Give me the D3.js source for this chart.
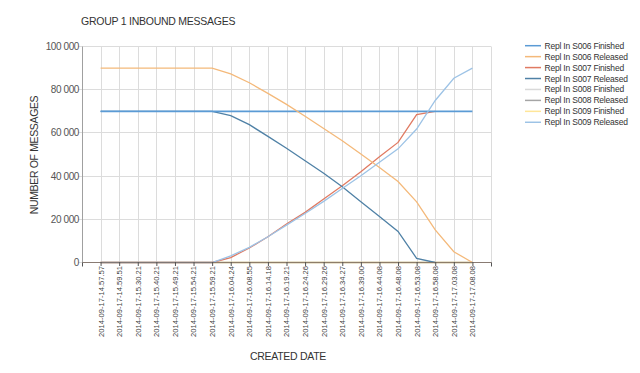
<!DOCTYPE html>
<html><head><meta charset="utf-8">
<script src="https://cdn.jsdelivr.net/npm/d3@7"></script>
<style>body{margin:0;background:#fff;}svg{display:block;font-family:"Liberation Sans",Arial,sans-serif;}</style>
</head><body><svg id="c" width="640" height="373"></svg>
<script>
const categories = ["2014-09-17-14.57.57","2014-09-17-14.59.51","2014-09-17-15.30.21","2014-09-17-15.40.21","2014-09-17-15.49.21","2014-09-17-15.54.21","2014-09-17-15.59.21","2014-09-17-16.04.24","2014-09-17-16.08.55","2014-09-17-16.14.18","2014-09-17-16.19.21","2014-09-17-16.24.26","2014-09-17-16.29.26","2014-09-17-16.34.27","2014-09-17-16.39.00","2014-09-17-16.44.08","2014-09-17-16.48.08","2014-09-17-16.53.08","2014-09-17-16.58.08","2014-09-17-17.03.08","2014-09-17-17.08.08"];
const seriesNames = ["Repl In S006 Finished","Repl In S006 Released","Repl In S007 Finished","Repl In S007 Released","Repl In S008 Finished","Repl In S008 Released","Repl In S009 Finished","Repl In S009 Released"];
const seriesColors = ["#5b9bd5","#f4b97a","#e07a62","#4f81a6","#d9d9d9","#a5a5a5","#ffe699","#9dc3e6"];
const s006Finished = [70000,70000,70000,70000,70000,70000,70000,70000,70000,70000,70000,70000,70000,70000,70000,70000,70000,70000,70000,70000,70000];
const s006Released = [90000,90000,90000,90000,90000,90000,90000,87300,83200,78300,73200,67700,62000,56400,50200,44000,37500,28100,15100,5000,0];
const s007Finished = [0,0,0,0,0,0,0,2300,6700,11900,17800,23200,29400,35500,42000,49000,55600,68500,70000,null,null];
const s007Released = [70000,70000,70000,70000,70000,70000,70000,68000,63800,58400,52900,47100,41300,35100,28100,21300,14400,1900,0,null,null];
const s008Finished = [0,0,0,0,0,0,0,0,0,0,0,0,0,0,0,0,0,0,0,0,0];
const s008Released = [0,0,0,0,0,0,0,0,0,0,0,0,0,0,0,0,0,0,0,0,0];
const s009Finished = [0,0,0,0,0,0,0,0,0,0,0,0,0,0,0,0,0,0,0,0,0];
const s009Released = [0,0,0,0,0,0,0,3100,7000,11900,17300,22700,28300,34300,40200,46400,52600,61800,75000,85300,90000];
const yTicks = [0,20000,40000,60000,80000,100000];
const titleText = "GROUP 1 INBOUND MESSAGES";
const xTitle = "CREATED DATE";
const yTitle = "NUMBER OF MESSAGES";

const seriesValues = [s006Finished,s006Released,s007Finished,s007Released,s008Finished,s008Released,s009Finished,s009Released];
const drawOrder = [4,5,6,2,3,0,1,7];

const svg = d3.select("#c");
const L=82,R=491,T=46.5,B=262.5;
const x = d3.scalePoint().domain(categories).range([L,R]).padding(1);
const y = d3.scaleLinear().domain([0,100000]).range([B,T]);
const py = v => Math.floor(y(v))+0.5;

// horizontal grid
svg.append("g").selectAll("line").data(yTicks).join("line")
  .attr("x1",L-4).attr("x2",R).attr("y1",py).attr("y2",py)
  .attr("stroke","#dcdcdc").attr("stroke-width",1);
// vertical grid
const vx = categories.map(c=>x(c)).concat([R]);
svg.append("g").selectAll("line").data(vx).join("line")
  .attr("x1",d=>Math.round(d)+0.5).attr("x2",d=>Math.round(d)+0.5).attr("y1",T).attr("y2",B)
  .attr("stroke","#dcdcdc").attr("stroke-width",1);

// y axis labels
const fmt = d=> d3.format(",")(d).replace(/,/g," ");
svg.append("g").selectAll("text").data(yTicks).join("text")
  .attr("x",L-3).attr("y",d=>py(d)+3.5).attr("text-anchor","end")
  .attr("font-size","10px").attr("letter-spacing","-0.4px").attr("fill","#555").text(fmt);
// y axis line
svg.append("line").attr("x1",L+0.5).attr("x2",L+0.5).attr("y1",T).attr("y2",B).attr("stroke","#a0a0a0");

// lines
const line = d3.line().defined(d=>d.v!=null).x(d=>x(d.c)).y(d=>y(d.v));
const g = svg.append("g");
drawOrder.forEach(i=>{
  const data = categories.map((c,k)=>({c, v:seriesValues[i][k]}));
  g.append("path").datum(data).attr("d",line).attr("fill","none")
    .attr("stroke",seriesColors[i]).attr("stroke-width",i===0?1.8:1.3);
});

// x axis with ticks
const xAxis = d3.axisBottom(x).tickSize(4).tickSizeOuter(0);
const gx = svg.append("g").attr("transform",`translate(0,${B-0.5})`).call(xAxis);
gx.select(".domain").attr("stroke","#7a6a60").attr("stroke-opacity",0.85);
gx.selectAll(".tick line").attr("stroke","#555");
gx.selectAll(".tick text").attr("font-size","7.6px").attr("fill","#444")
  .attr("font-family","'Liberation Sans',Arial,sans-serif")
  .attr("text-anchor","end").attr("dy","0.32em").attr("x",-4).attr("y",0)
  .attr("transform","rotate(-90)");
// edge ticks
svg.append("g").selectAll("line").data([L,R]).join("line")
  .attr("x1",d=>Math.round(d)+0.5).attr("x2",d=>Math.round(d)+0.5).attr("y1",B).attr("y2",B+4).attr("stroke","#555");

// titles
svg.append("text").attr("x",81).attr("y",24.5).attr("font-size","10.5px").attr("letter-spacing","-0.25px").attr("fill","#333").text(titleText);
svg.append("text").attr("x",288).attr("y",360).attr("text-anchor","middle").attr("font-size","10.5px").attr("letter-spacing","-0.3px").attr("fill","#333").text(xTitle);
svg.append("text").attr("transform","translate(38,155) rotate(-90)").attr("text-anchor","middle").attr("font-size","10.5px").attr("letter-spacing","-0.35px").attr("fill","#333").text(yTitle);

// legend
const lg = svg.append("g");
seriesNames.forEach((n,i)=>{
  const yy = 45.7 + i*10.94;
  lg.append("line").attr("x1",525).attr("x2",541).attr("y1",yy).attr("y2",yy).attr("stroke",seriesColors[i]).attr("stroke-width",1.5);
  lg.append("text").attr("x",544.5).attr("y",yy+3).attr("font-size","8.5px").attr("letter-spacing","-0.2px").attr("fill","#333").text(n);
});
</script></body></html>
